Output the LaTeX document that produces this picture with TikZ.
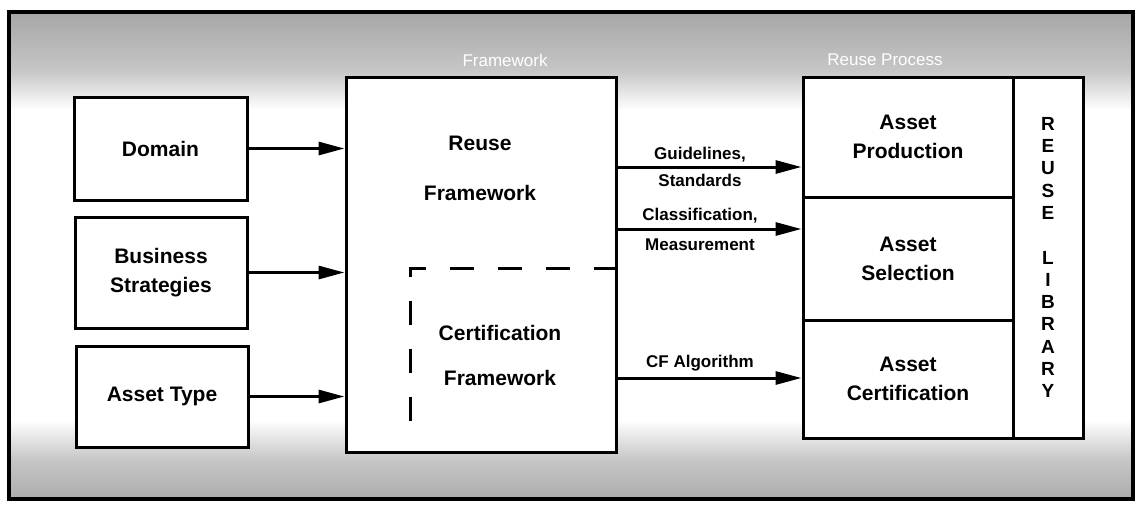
\documentclass[tikz,border=0pt]{standalone}
\usepackage{fontspec}
\setmainfont{Liberation Sans}
\usetikzlibrary{arrows.meta,positioning}
\tikzset{
  blk/.style={draw, line width=3pt, fill=white, align=center,
    font=\bfseries\fontsize{21}{29}\selectfont},
  lbl/.style={align=center, font=\bfseries\fontsize{17}{27}\selectfont},
  flow/.style={line width=3pt, -{Triangle[length=26pt,width=13pt]}},
  ttl/.style={text=white, font=\fontsize{17}{20}\selectfont}
}

\begin{document}
\begin{tikzpicture}[x=1pt,y=-1pt]
\useasboundingbox (0,0) rectangle (1138,504);
% background with grey bands
\fill[white] (9,12) rectangle (1133,499);
\shade[top color=gray!70, bottom color=gray!45] (9,12) rectangle (1133,70);
\shade[top color=gray!45, bottom color=white] (9,70) rectangle (1133,110);
\shade[top color=white, bottom color=gray!45] (9,420) rectangle (1133,460);
\shade[top color=gray!45, bottom color=gray!65] (9,460) rectangle (1133,499);
\draw[line width=4.5pt] (9,12) rectangle (1133,499);
\node[ttl] (fwtitle) at (505,60) {Framework};
\node[ttl] (rptitle) at (885,60) {Reuse Process};

% inputs
\node[blk, minimum width=173pt, minimum height=103pt] (domain) at (160.5,148.5) {Domain};
\node[blk, minimum width=172pt, minimum height=111pt] (business) at (161,272.5) {Business\\Strategies};
\node[blk, minimum width=172pt, minimum height=101pt] (assettype) at (162,396.5) {Asset Type};

% framework
\node[blk, minimum width=270pt, minimum height=375pt] (reuse) at (481,264.5) {};
\node[align=center, font=\bfseries\fontsize{21}{50}\selectfont] (reusetxt) at (480,168) {Reuse\\Framework};
\coordinate (cfcorner) at (410,268);
\draw[line width=3pt, dash pattern=on 24pt off 24pt] (reuse.east |- cfcorner) -- (cfcorner) -- (410,437);
\node[align=center, font=\bfseries\fontsize{21}{45}\selectfont] (certtxt) at (500,355) {Certification\\Framework};

% reuse process
\node[blk, minimum width=210pt, minimum height=120pt] (prod) at (908,137) {Asset\\Production};
\node[blk, minimum width=210pt, minimum height=123pt] (sel) at (908,258.5) {Asset\\Selection};
\node[blk, minimum width=210pt, minimum height=118pt] (cert) at (908,379) {Asset\\Certification};
\node[blk, minimum width=70pt, minimum height=361pt, font=\bfseries\fontsize{19}{22.3}\selectfont] (lib) at (1048,257.5)
  {R\\E\\U\\S\\E\\~\\L\\I\\B\\R\\A\\R\\Y};

% connectors
\foreach \src in {domain, business, assettype}
  \draw[flow] (\src) -- (\src -| reuse.west);
\node[lbl] (glbl) at (700,167) {Guidelines,\\Standards};
\node[lbl, font=\bfseries\fontsize{17}{30}\selectfont] (clbl) at (700,229) {Classification,\\Measurement};
\node[lbl] (cflbl) at (700,363) {CF Algorithm};
\coordinate (cfarrow) at (616,378);
\draw[flow] (reuse.east |- glbl) -- (prod.west |- glbl);
\draw[flow] (reuse.east |- clbl) -- (sel.west |- clbl);
\draw[flow] (cfarrow) -- (cfarrow -| cert.west);
\end{tikzpicture}
\end{document}
